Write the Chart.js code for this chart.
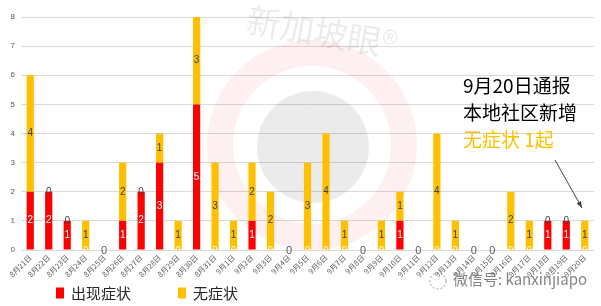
<!DOCTYPE html>
<html>
<head>
<meta charset="utf-8">
<script src="https://cdn.jsdelivr.net/npm/chart.js@4.4.0/dist/chart.umd.min.js"></script>
<style>
html,body{margin:0;padding:0;background:#fff;}
#wrap{width:601px;height:306px;position:relative;}
</style>
</head>
<body>
<div id="wrap"><canvas id="c" width="601" height="306"></canvas></div>
<script>
const categories = ['8月21日','8月22日','8月23日','8月24日','8月25日','8月26日','8月27日','8月28日','8月29日','8月30日','8月31日',
  '9月1日','9月2日','9月3日','9月4日','9月5日','9月6日','9月7日','9月8日','9月9日','9月10日',
  '9月11日','9月12日','9月13日','9月14日','9月15日','9月16日','9月17日','9月18日','9月19日','9月20日'];
const symptomatic  = [2,2,1,0,0,1,2,3,0,5,0, 0,1,0,0,0,0,0,0,0,1, 0,0,0,0,0,0,0,1,1,0];
const asymptomatic = [4,0,0,1,0,2,0,1,1,3,3, 1,2,2,0,3,4,1,0,1,1, 0,4,1,0,0,2,1,0,0,1];
const seriesNames = ['出现症状','无症状'];
const yMin = 0, yMax = 8, yStep = 1;
const noteLines = ['9月20日通报','本地社区新增','无症状 1起'];
const watermarkText = '新加坡眼®';
const wechatText = '微信号: kanxinjiapo';

const RED = '#FF0000', YEL = '#FFC000';
const CJK = '"Noto Sans CJK SC", sans-serif';
const NUM = '"Liberation Sans", Arial, sans-serif';

const watermarkPlugin = {
  id: 'watermark',
  beforeDatasetsDraw(chart) {
    const ctx = chart.ctx;
    ctx.save();
    ctx.beginPath();
    ctx.arc(312, 145, 92, 0, Math.PI * 2);
    ctx.strokeStyle = 'rgba(240,60,60,0.08)';
    ctx.lineWidth = 26;
    ctx.stroke();
    ctx.beginPath();
    ctx.arc(313, 147, 56, 0, Math.PI * 2);
    ctx.fillStyle = 'rgba(0,0,0,0.08)';
    ctx.fill();
    ctx.translate(322, 32);
    ctx.rotate(0.17);
    ctx.font = '34px ' + CJK;
    ctx.fillStyle = 'rgba(0,0,0,0.08)';
    ctx.textAlign = 'center';
    ctx.textBaseline = 'middle';
    ctx.fillText(watermarkText, 0, 0);
    ctx.restore();
  }
};

const valueLabelPlugin = {
  id: 'valueLabels',
  afterDatasetsDraw(chart) {
    const ctx = chart.ctx;
    const ys = chart.scales.y;
    const m0 = chart.getDatasetMeta(0).data;
    const m1 = chart.getDatasetMeta(1).data;
    const d0 = chart.data.datasets[0].data;
    const d1 = chart.data.datasets[1].data;
    const zeroY = ys.getPixelForValue(0);
    ctx.save();
    ctx.textAlign = 'center';
    ctx.textBaseline = 'middle';
    for (let i = 0; i < d0.length; i++) {
      const r = d0[i], y = d1[i];
      const x = m0[i].x;
      if (r === 0 && y === 0) {
        ctx.font = '11px ' + NUM;
        ctx.fillStyle = '#595959';
        ctx.fillText('0', x, zeroY + 1);
        continue;
      }
      ctx.font = '10px ' + NUM;
      if (r > 0) {
        ctx.fillStyle = '#FFFFFF';
        ctx.fillText(String(r), x, (m0[i].y + m0[i].base) / 2);
      } else {
        ctx.save();
        ctx.beginPath();
        ctx.rect(x - 10, zeroY - 10, 20, 10);
        ctx.clip();
        ctx.fillStyle = '#FFFFFF';
        ctx.font = '9px ' + NUM;
        ctx.fillText('0', x, zeroY);
        ctx.restore();
        ctx.font = '10px ' + NUM;
      }
      ctx.fillStyle = '#404040';
      if (y > 0) {
        ctx.fillText(String(y), x, (m1[i].y + m1[i].base) / 2);
      } else {
        ctx.fillText('0', x, ys.getPixelForValue(r));
      }
    }
    ctx.restore();
  }
};

const legendPlugin = {
  id: 'customLegend',
  afterDraw(chart) {
    const ctx = chart.ctx;
    ctx.save();
    ctx.font = '15px ' + CJK;
    ctx.textBaseline = 'middle';
    ctx.textAlign = 'left';
    let x = 56;
    const cy = 293;
    chart.data.datasets.forEach(ds => {
      ctx.fillStyle = ds.backgroundColor;
      ctx.fillRect(x, cy - 5.5, 8, 11);
      ctx.fillStyle = '#262626';
      ctx.fillText(ds.label, x + 15, cy);
      x += 15 + ctx.measureText(ds.label).width + 47;
    });
    ctx.restore();
  }
};

const notePlugin = {
  id: 'note',
  afterDraw(chart) {
    const ctx = chart.ctx;
    ctx.save();
    ctx.font = '19px ' + CJK;
    ctx.textBaseline = 'middle';
    ctx.textAlign = 'left';
    const colors = ['#000000', '#000000', YEL];
    noteLines.forEach((t, k) => {
      ctx.fillStyle = colors[k];
      ctx.fillText(t, 463, 86 + k * 27);
    });
    const x1 = 555, y1 = 160, x2 = 582, y2 = 208;
    ctx.strokeStyle = '#404040';
    ctx.fillStyle = '#404040';
    ctx.lineWidth = 1;
    ctx.beginPath();
    ctx.moveTo(x1, y1);
    ctx.lineTo(x2, y2);
    ctx.stroke();
    const ang = Math.atan2(y2 - y1, x2 - x1);
    ctx.beginPath();
    ctx.moveTo(x2, y2);
    ctx.lineTo(x2 - 7 * Math.cos(ang - 0.35), y2 - 7 * Math.sin(ang - 0.35));
    ctx.lineTo(x2 - 7 * Math.cos(ang + 0.35), y2 - 7 * Math.sin(ang + 0.35));
    ctx.closePath();
    ctx.fill();
    ctx.font = '15px ' + CJK;
    ctx.fillStyle = 'rgba(90,90,90,0.75)';
    ctx.fillText(wechatText, 453, 279);
    ctx.beginPath();
    ctx.arc(438, 281, 8, 0, Math.PI * 2);
    ctx.setLineDash([2, 2]);
    ctx.strokeStyle = 'rgba(90,90,90,0.6)';
    ctx.stroke();
    ctx.restore();
  }
};

new Chart(document.getElementById('c'), {
  type: 'bar',
  data: {
    labels: categories,
    datasets: [
      { label: seriesNames[0], data: symptomatic, backgroundColor: RED, barPercentage: 0.39, categoryPercentage: 1 },
      { label: seriesNames[1], data: asymptomatic, backgroundColor: YEL, barPercentage: 0.39, categoryPercentage: 1 }
    ]
  },
  options: {
    responsive: false,
    animation: false,
    devicePixelRatio: 1,
    layout: { padding: { top: 17, right: 7, bottom: 28, left: 0 } },
    plugins: {
      legend: { display: false },
      tooltip: { enabled: false },
      title: { display: false }
    },
    scales: {
      x: {
        stacked: true,
        grid: { display: false, drawTicks: false },
        border: { display: false },
        ticks: {
          autoSkip: false, maxRotation: 45, minRotation: 45,
          font: { size: 7.5, family: CJK }, color: '#595959', padding: 3
        },
        afterFit(s) { s.height = 28; }
      },
      y: {
        stacked: true,
        min: yMin, max: yMax,
        grid: { color: '#D9D9D9', lineWidth: 1, drawTicks: false },
        border: { display: false },
        ticks: { stepSize: yStep, font: { size: 8, family: NUM }, color: '#595959', padding: 6 },
        afterFit(s) { s.width = 21; }
      }
    }
  },
  plugins: [watermarkPlugin, valueLabelPlugin, legendPlugin, notePlugin]
});
</script>
</body>
</html>
